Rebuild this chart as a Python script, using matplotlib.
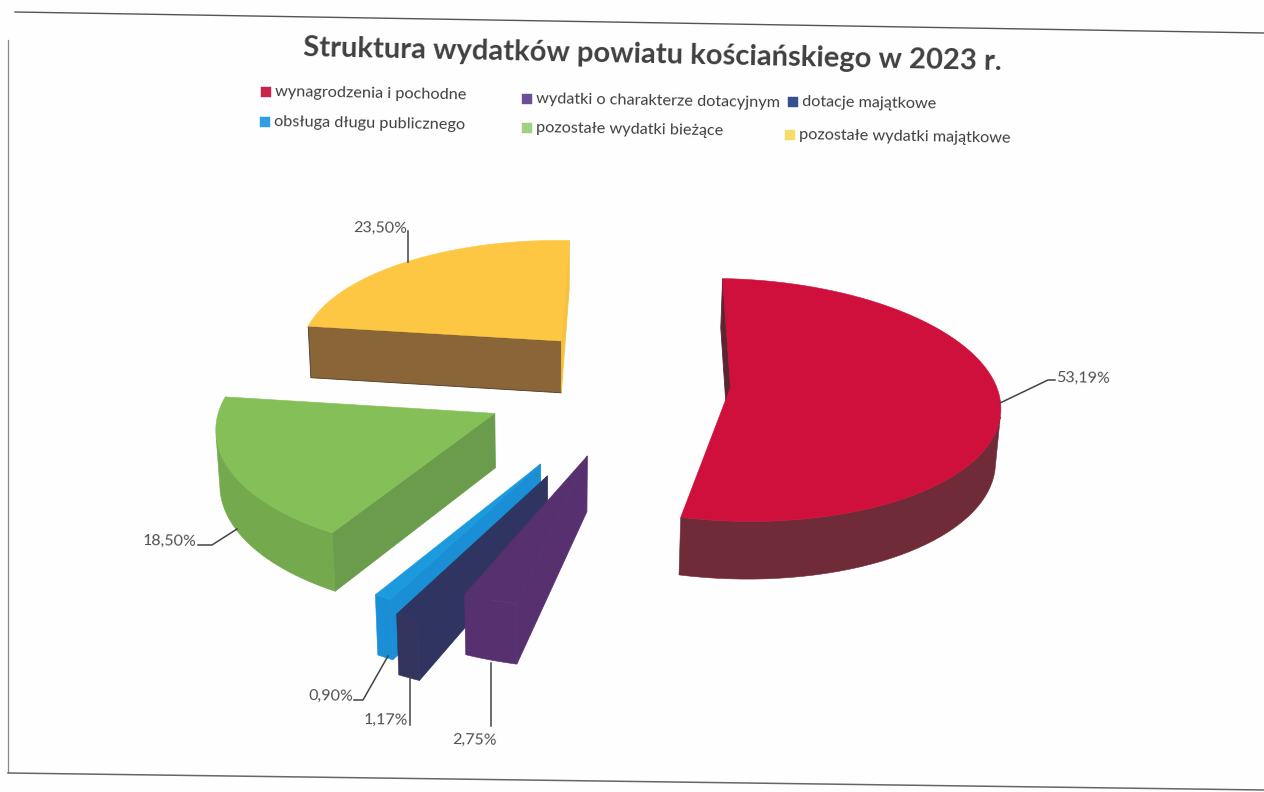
import numpy as np
import matplotlib
matplotlib.use('Agg')
import matplotlib.pyplot as plt
from matplotlib.patches import Polygon

plt.rcParams['font.family'] = ['Lato', 'DejaVu Sans']

title = 'Struktura wydatków powiatu kościańskiego w 2023 r.'
categories = ['wynagrodzenia i pochodne', 'wydatki o charakterze dotacyjnym', 'dotacje majątkowe',
              'obsługa długu publicznego', 'pozostałe wydatki bieżące', 'pozostałe wydatki majątkowe']
values = [53.19, 2.75, 1.17, 0.90, 18.50, 23.50]

# per slice styling, same order as categories
explode = [0.38, 0.56, 0.76, 0.70, 0.555, 0.40]
nudge_x = [0.005, 0.02, 0.03, 0.02, 0.008, 0.008]
nudge_y = [0.01, -0.05, -0.04, -0.03, -0.015, 0.05]
top_colors = ['#cf0f3c', '#57306f', '#2f3560', '#1c9ade', '#85bf57', '#fdc743']
start_wall = ['#5a2630', '#57306f', '#2f3560', '#1a8fd6', '#6a9c4b', '#8a6538']
end_wall = ['#6f2b38', '#57306f', '#2f3560', '#1a8fd6', '#6a9c4b', '#f6c23e']
start_edge = ['#5a2630', '#57306f', '#2f3560', '#1a8fd6', '#6a9c4b', '#4a3a28']
rim_colors = ['#6f2b38', '#57306f', '#33355f', '#1a8fd6', '#74a94e', '#8a6538']
legend_colors = ['#c8254e', '#6b4f96', '#35508f', '#2f9fe3', '#9fd184', '#f6dc6a']

# layout in page pixels
legend_xy = [(266, 92), (527, 99), (793, 102), (265, 122), (527, 128), (790, 135)]
label_xy = [(1056, 378), (452, 740), (364, 720), (309, 696), (143, 541), (353, 228)]
leaders = [
    [(1000, 403), (1048, 380), (1055, 380)],
    [(491, 663), (491, 726)],
    [(410, 677), (410, 725)],
    [(388, 656), (363, 700), (354, 700)],
    [(237, 529), (212, 545), (198, 545)],
    [(408, 262), (408, 231)],
]

TILT = np.radians(1.0)
ELEV = np.radians(26.5)
FOCAL = 2270
DIST = 8.5
HEIGHT = 0.225
CENTER = (628, 382)
CAMERA = np.array([0, -DIST * np.cos(ELEV), DIST * np.sin(ELEV)])


def project(x, y, z):
    yc = y * np.sin(ELEV) + z * np.cos(ELEV)
    zc = DIST + y * np.cos(ELEV) - z * np.sin(ELEV)
    u = FOCAL * x / zc
    v = -FOCAL * yc / zc
    return (CENTER[0] + u * np.cos(TILT) - v * np.sin(TILT),
            CENTER[1] + u * np.sin(TILT) + v * np.cos(TILT))


def faces_camera(normal, point):
    return np.dot(np.array([normal[0], normal[1], 0]), CAMERA - np.array([point[0], point[1], 0])) > 0


def draw_wall(ax, apex, tip, normal, color, edge):
    if not faces_camera(normal, tip):
        return
    pts = [(apex[0], apex[1], 0), (tip[0], tip[1], 0), (tip[0], tip[1], -HEIGHT), (apex[0], apex[1], -HEIGHT)]
    ax.add_patch(Polygon([project(*p) for p in pts], fc=color, ec=edge, lw=0.6))


def draw_slice(ax, a0, a1, apex, top, wall0, wall1, edge0, rim):
    angles = np.linspace(a0, a1, 80)
    rim_pts = np.column_stack([apex[0] + np.sin(angles), apex[1] + np.cos(angles)])

    draw_wall(ax, apex, rim_pts[0], (-np.cos(a0), np.sin(a0)), wall0, edge0)
    draw_wall(ax, apex, rim_pts[-1], (np.cos(a1), -np.sin(a1)), wall1, wall1)

    seen = [p for p, a in zip(rim_pts, angles) if faces_camera((np.sin(a), np.cos(a)), p)]
    if len(seen) > 1:
        outline = [project(p[0], p[1], 0) for p in seen] + [project(p[0], p[1], -HEIGHT) for p in seen[::-1]]
        ax.add_patch(Polygon(outline, fc=rim, ec=rim, lw=0.4))

    face = [project(apex[0], apex[1], 0)] + [project(p[0], p[1], 0) for p in rim_pts]
    ax.add_patch(Polygon(face, fc=top, ec=top, lw=0.4))


fig = plt.figure(figsize=(12.64, 7.92), dpi=100, facecolor='#fefefe')
ax = fig.add_axes([0, 0, 1, 1])
ax.set_xlim(0, 1264)
ax.set_ylim(792, 0)
ax.axis('off')

# page frame of the scan
ax.plot([15, 1264], [12, 33], color='#555555', lw=1.0)
ax.plot([8, 8], [40, 772], color='#8a8a8a', lw=0.9)
ax.plot([8, 1264], [773, 790], color='#666666', lw=1.1)

fractions = np.array(values) / sum(values)
bounds = np.concatenate([[0], np.cumsum(fractions)]) * 2 * np.pi
for i in [5, 4, 3, 2, 1, 0]:
    mid = (bounds[i] + bounds[i + 1]) / 2
    apex = (explode[i] * np.sin(mid) + nudge_x[i], explode[i] * np.cos(mid) + nudge_y[i])
    draw_slice(ax, bounds[i], bounds[i + 1], apex, top_colors[i], start_wall[i], end_wall[i],
               start_edge[i], rim_colors[i])

ax.text(303, 48, title, fontsize=21, fontweight='bold', color='#404040', va='center',
        rotation=-1.15, rotation_mode='anchor')

for name, color, (x, y) in zip(categories, legend_colors, legend_xy):
    ax.add_patch(Polygon([(x - 5, y - 5), (x + 5, y - 5), (x + 5, y + 5), (x - 5, y + 5)], fc=color, ec=color, lw=0.3))
    ax.text(x + 9, y, name, fontsize=11.7, color='#404040', va='center',
            rotation=-1, rotation_mode='anchor')

for value, (x, y), line in zip(values, label_xy, leaders):
    ax.plot(*zip(*line), color='#444444', lw=1.1)
    ax.text(x, y, f'{value:.2f}'.replace('.', ',') + '%', fontsize=11.5, color='#505050',
            va='center', rotation=-1, rotation_mode='anchor')

fig.savefig('out.png', dpi=100, facecolor=fig.get_facecolor())
